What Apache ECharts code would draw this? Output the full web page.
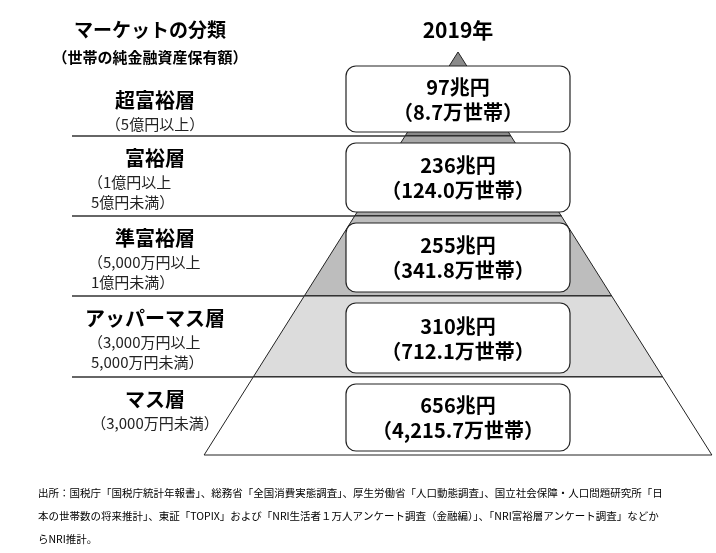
<!DOCTYPE html>
<html><head><meta charset="utf-8">
<script src="https://cdn.jsdelivr.net/npm/echarts@6/dist/echarts.min.js"></script>
<style>html,body{margin:0;padding:0;background:#fff}#c{width:716px;height:553px}</style>
</head><body><div id="c"></div>
<script>
var layerNames = ['超富裕層','富裕層','準富裕層','アッパーマス層','マス層'];
var layerRanges = [['（5億円以上）'],['（1億円以上','5億円未満）'],['（5,000万円以上','1億円未満）'],['（3,000万円以上','5,000万円未満）'],['（3,000万円未満）']];
var assets = ['97兆円','236兆円','255兆円','310兆円','656兆円'];
var households = ['（8.7万世帯）','（124.0万世帯）','（341.8万世帯）','（712.1万世帯）','（4,215.7万世帯）'];
var year = '2019年';
var boundaries = [52,136,216,296,377,455];
var fills = ['#8a8a8a','#a8a8a8','#bdbdbd','#dcdcdc','#ffffff'];
var FONT = '"Noto Sans CJK JP","Noto Sans",sans-serif';
var APEX_X = 458, SLOPE = 0.63;
function hw(y){return (y-boundaries[0])*SLOPE;}

var chart = echarts.init(document.getElementById('c'));
chart.setOption({
  animation:false,
  grid:{left:0,right:0,top:0,bottom:0},
  xAxis:{type:'value',min:0,max:716,show:false},
  yAxis:{type:'value',min:0,max:553,inverse:true,show:false},
  graphic:[
    {type:'text',x:150,y:30,style:{text:'マーケットの分類',font:'bold 19px '+FONT,fill:'#000',align:'center',verticalAlign:'middle'}},
    {type:'text',x:150,y:57,style:{text:'（世帯の純金融資産保有額）',font:'bold 15px '+FONT,fill:'#000',align:'center',verticalAlign:'middle'}},
    {type:'text',x:458,y:30,style:{text:year,font:'bold 21px '+FONT,fill:'#000',align:'center',verticalAlign:'middle'}},
    {type:'text',x:38,y:493,style:{text:'出所：国税庁「国税庁統計年報書」、総務省「全国消費実態調査」、厚生労働省「人口動態調査」、国立社会保障・人口問題研究所「日',font:'10.5px '+FONT,fill:'#000',verticalAlign:'middle'}},
    {type:'text',x:38,y:516,style:{text:'本の世帯数の将来推計」、東証「TOPIX」および「NRI生活者１万人アンケート調査（金融編）」、「NRI富裕層アンケート調査」などか',font:'10.5px '+FONT,fill:'#000',verticalAlign:'middle'}},
    {type:'text',x:38,y:539,style:{text:'らNRI推計。',font:'10.5px '+FONT,fill:'#000',verticalAlign:'middle'}}
  ],
  series:[{
    type:'custom',
    data:layerNames.map(function(n,i){return [i];}),
    renderItem:function(params,api){
      var i = api.value(0);
      var y0 = boundaries[i], y1 = boundaries[i+1];
      var p = function(x,y){return api.coord([x,y]);};
      var children = [];
      var poly = i===0 ? [p(APEX_X,y0),p(APEX_X+hw(y1),y1),p(APEX_X-hw(y1),y1)]
        : [p(APEX_X-hw(y0),y0),p(APEX_X+hw(y0),y0),p(APEX_X+hw(y1),y1),p(APEX_X-hw(y1),y1)];
      children.push({type:'polygon',shape:{points:poly},style:{fill:fills[i],stroke:'#222',lineWidth:1}});
      if(i<layerNames.length-1){
        children.push({type:'line',shape:{x1:p(72,y1)[0],y1:p(72,y1)[1],x2:p(APEX_X+hw(y1),y1)[0],y2:p(72,y1)[1]},style:{stroke:'#333',lineWidth:1.5}});
      }
      var bt = p(346,y0+ (i===0?14:7)), bb = p(570,y1-4);
      children.push({type:'rect',shape:{x:bt[0],y:bt[1],width:bb[0]-bt[0],height:bb[1]-bt[1],r:10},style:{fill:'#fff',stroke:'#222',lineWidth:1.2}});
      var cy = (bt[1]+bb[1])/2;
      children.push({type:'text',style:{x:(bt[0]+bb[0])/2,y:cy-12,text:assets[i],font:'bold 20px '+FONT,fill:'#000',align:'center',verticalAlign:'middle'}});
      children.push({type:'text',style:{x:(bt[0]+bb[0])/2,y:cy+13,text:households[i],font:'bold 20px '+FONT,fill:'#000',align:'center',verticalAlign:'middle'}});
      var ly = i===0 ? 100 : y0+22;
      children.push({type:'text',style:{x:155,y:ly,text:layerNames[i],font:'bold 20px '+FONT,fill:'#000',align:'center',verticalAlign:'middle'}});
      layerRanges[i].forEach(function(t,k){
        var x = (layerRanges[i].length===1)?155:(k===0?88:91);
        children.push({type:'text',style:{x:x,y:ly+24+k*20,text:t,font:'15px '+FONT,fill:'#222',align:layerRanges[i].length===1?'center':'left',verticalAlign:'middle'}});
      });
      return {type:'group',children:children};
    }
  }]
});
</script></body></html>
